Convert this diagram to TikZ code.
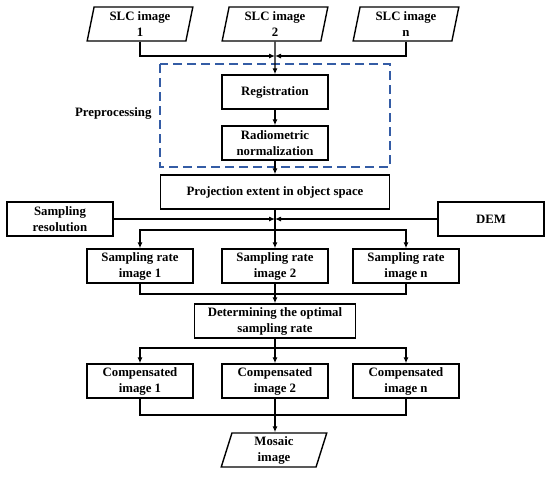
\documentclass[tikz,border=0pt]{standalone}
\usepackage{fontspec}
\setmainfont{Liberation Serif}
\usetikzlibrary{shapes.geometric,arrows.meta}

\definecolor{prepblue}{RGB}{52,92,165}

\tikzset{
    box/.style={draw, line width=1.4pt, minimum width=106pt, minimum height=34pt, align=center, inner sep=2pt},
    datain/.style={draw, line width=1.4pt, trapezium, trapezium left angle=80, trapezium right angle=100,
        trapezium stretches=true, minimum width=106pt, minimum height=34pt, align=center, inner sep=1pt},
    link/.style={line width=1.1pt, -{Latex[length=6pt,width=5pt]}},
    plain/.style={line width=1.1pt}
}

\begin{document}
\begin{tikzpicture}[x=1pt, y=-1pt, font=\fontsize{12.8}{16}\selectfont\bfseries]
    \useasboundingbox (0,0) rectangle (550,477);

    % Input images
    \node[datain] (slc1) at (140,24) {SLC image\\1};
    \node[datain] (slc2) at (275,24) {SLC image\\2};
    \node[datain] (slcn) at (406,24) {SLC image\\n};
    \coordinate (joinin) at (275,56);

    % Preprocessing
    \draw[prepblue, line width=1.2pt, dash pattern=on 9pt off 5pt] (160,64) rectangle (390,167);
    \node[anchor=east] (prep) at (155,113) {Preprocessing};
    \node[box] (reg) at (275,92) {Registration};
    \node[box] (radio) at (275,143) {Radiometric\\normalization};

    % Object space
    \node[box, minimum width=229pt] (proj) at (275,192) {Projection extent in object space};
    \node[box] (res) at (60,219) {Sampling\\resolution};
    \node[box] (dem) at (491,219) {DEM};
    \coordinate (joinmid) at (275,219);
    \coordinate (splitrate) at (275,230);

    % Sampling rates
    \foreach \x/\n in {140/1, 275/2, 406/n} {
        \node[box] (rate\n) at (\x,266) {Sampling rate\\image \n};
    }
    \coordinate (joinrate) at (275,294);
    \node[box, minimum width=161pt] (opt) at (275,321) {Determining the optimal\\sampling rate};
    \coordinate (splitcomp) at (275,348);

    % Compensated images
    \foreach \x/\n in {140/1, 275/2, 406/n} {
        \node[box] (comp\n) at (\x,381) {Compensated\\image \n};
    }
    \coordinate (joincomp) at (275,415);
    \node[datain] (mosaic) at (274,450) {Mosaic\\image};

    % Connectors
    \draw[link] (slc1.south) |- (joinin);
    \draw[link] (slcn.south) |- (joinin);
    \draw[link] (slc2.south) -- (reg.north);
    \draw[link] (reg.south) -- (radio.north);
    \draw[link] (radio.south) -- (proj.north);
    \draw[link] (res.east) -- (joinmid);
    \draw[link] (dem.west) -- (joinmid);
    \draw[link] (proj.south) -- (rate2.north);
    \draw[link] (splitrate) -| (rate1.north);
    \draw[link] (splitrate) -| (raten.north);
    \draw[plain] (rate1.south) |- (joinrate) -| (raten.south);
    \draw[link] (rate2.south) -- (opt.north);
    \draw[link] (opt.south) -- (comp2.north);
    \draw[link] (splitcomp) -| (comp1.north);
    \draw[link] (splitcomp) -| (compn.north);
    \draw[plain] (comp1.south) |- (joincomp) -| (compn.south);
    \draw[link] (comp2.south) -- (comp2.south |- mosaic.north);
\end{tikzpicture}
\end{document}
